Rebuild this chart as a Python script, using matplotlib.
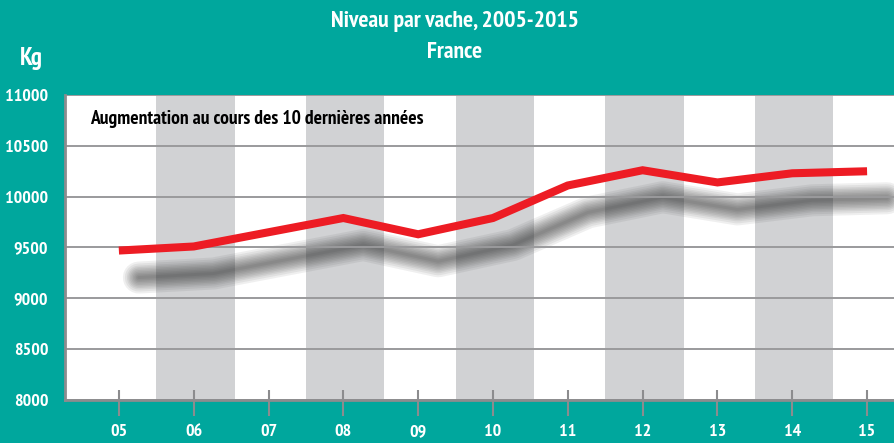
import matplotlib
matplotlib.use("Agg")
import matplotlib.pyplot as plt
from matplotlib.transforms import offset_copy

# donnees
annees = [2005, 2006, 2007, 2008, 2009, 2010, 2011, 2012, 2013, 2014, 2015]
etiquettes = ["05", "06", "07", "08", "09", "10", "11", "12", "13", "14", "15"]
niveau_kg = [9470, 9510, 9650, 9790, 9630, 9790, 10110, 10260, 10140, 10230, 10250]
graduations_y = [8000, 8500, 9000, 9500, 10000, 10500, 11000]
annees_grises = [2006, 2008, 2010, 2012, 2014]

TEAL = "#00a79d"
ROUGE = "#ed1c24"
GRIS_BANDE = "#d1d2d4"
GRIS_LIGNE = "#9a9a9c"
POLICE = ["PT Sans Narrow", "DejaVu Sans"]

plt.rcParams["font.family"] = POLICE
plt.rcParams["font.weight"] = "bold"

fig = plt.figure(figsize=(8.94, 4.43), dpi=100, facecolor=TEAL)
W, H = 894, 443
ax = fig.add_axes([65 / W, (H - 400) / H, (W - 65) / W, (400 - 95) / H])
ax.set_facecolor("white")

# bandes grises une annee sur deux
for a in annees_grises:
    ax.axvspan(a - 0.5, a + 0.55, color=GRIS_BANDE, lw=0, zorder=0)

# ombre floue (copie decalee de la courbe)
ombre = offset_copy(ax.transData, fig=fig, x=20, y=-27, units="dots")
for lw in [32, 28, 24, 21, 18, 15, 12, 9, 6, 3]:
    ax.plot(annees, niveau_kg, color="#222222", lw=lw * 0.72, alpha=0.07,
            solid_capstyle="round", solid_joinstyle="round",
            transform=ombre, zorder=1)

# grille
for v in graduations_y:
    ax.axhline(v, color=GRIS_LIGNE, lw=1.4, zorder=2)

# courbe principale
ax.plot(annees, niveau_kg, color=ROUGE, lw=5.8, solid_capstyle="butt",
        solid_joinstyle="miter", zorder=3)

ax.set_xlim(annees[0] - 0.72, annees[-1] + 0.36)
ax.set_ylim(graduations_y[0], graduations_y[-1])

for s in ["right", "top"]:
    ax.spines[s].set_visible(False)
for s in ["left", "bottom"]:
    ax.spines[s].set_color("#8c8c8e")
    ax.spines[s].set_linewidth(2)
    ax.spines[s].set_zorder(4)

ax.set_yticks(graduations_y)
ax.set_yticklabels([str(v) for v in graduations_y])
ax.tick_params(axis="y", length=0, pad=12, labelcolor="white", labelsize=13)

ax.set_xticks(annees)
ax.set_xticklabels(etiquettes)
ax.set_xticks(annees, minor=True)
ax.xaxis.remove_overlapping_locs = False
ax.tick_params(axis="x", which="major", direction="out", length=11.5, width=1.5,
               color="#8c8c8e", pad=6, labelcolor="white", labelsize=13)
ax.tick_params(axis="x", which="minor", direction="in", length=7.2, width=1.5,
               color="#8c8c8e")

ax.text(0.03, 0.92, "Augmentation au cours des 10 dernières années",
        transform=ax.transAxes, fontsize=14, fontweight="bold",
        color="black", ha="left", va="center")

fig.text(455 / W, 1 - 21 / H, "Niveau par vache, 2005-2015", color="white",
         fontsize=17, fontweight="bold", ha="center", va="center")
fig.text(455 / W, 1 - 53 / H, "France", color="white",
         fontsize=17, fontweight="bold", ha="center", va="center")
fig.text(31 / W, 1 - 59 / H, "Kg", color="white",
         fontsize=18, fontweight="bold", ha="center", va="center")

fig.savefig("out.png", dpi=100, facecolor=TEAL)
